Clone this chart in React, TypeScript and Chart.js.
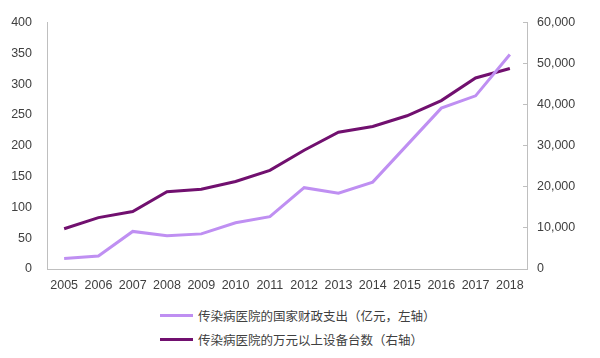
import React, { useEffect, useRef } from "react";
import { Chart, registerables } from "chart.js";

Chart.register(...registerables);

const years = ["2005","2006","2007","2008","2009","2010","2011","2012","2013","2014","2015","2016","2017","2018"];
const fiscalSpending = [17, 21, 61, 54, 57, 75, 85, 132, 123, 141, 201, 261, 281, 348];
const equipmentCount = [9800, 12500, 14000, 18800, 19400, 21300, 24000, 28900, 33300, 34700, 37300, 41000, 46500, 48800];
const leftTicks = [0, 400, 50];
const rightTicks = [0, 60000, 10000];
const labelSpending = "传染病医院的国家财政支出（亿元，左轴）";
const labelEquipment = "传染病医院的万元以上设备台数（右轴）";

const LIGHT = "#BF8FF2";
const DARK = "#71106F";
const TEXT = "#404040";
const AXIS = "#BFBFBF";

export default function App() {
  const ref = useRef<HTMLCanvasElement | null>(null);
  useEffect(() => {
    document.body.style.margin = "0";
    const font = { family: "Liberation Sans, Arial, sans-serif", size: 12.5 };
    const chart = new Chart(ref.current!, {
      type: "line",
      data: {
        labels: years,
        datasets: [
          {
            label: labelSpending,
            data: fiscalSpending,
            borderColor: LIGHT,
            backgroundColor: LIGHT,
            borderWidth: 3,
            pointRadius: 0,
            tension: 0,
            yAxisID: "y",
          },
          {
            label: labelEquipment,
            data: equipmentCount,
            borderColor: DARK,
            backgroundColor: DARK,
            borderWidth: 3,
            pointRadius: 0,
            tension: 0,
            yAxisID: "y1",
          },
        ],
      },
      options: {
        responsive: false,
        animation: false,
        layout: { padding: { top: 19, left: 0, right: 0, bottom: 0 } },
        plugins: { legend: { display: false }, tooltip: { enabled: false } },
        scales: {
          x: {
            offset: true,
            grid: { display: false, drawTicks: false },
            border: { display: true, color: AXIS, width: 1 },
            ticks: { color: TEXT, font, padding: 9, maxRotation: 0, autoSkip: false },
            afterFit: (s: any) => { s.height = 31; },
          },
          y: {
            position: "left",
            min: leftTicks[0],
            max: leftTicks[1],
            grid: { display: false, drawTicks: false },
            border: { display: true, color: AXIS, width: 1 },
            ticks: { color: TEXT, font, stepSize: leftTicks[2], padding: 15 },
            afterFit: (s: any) => { s.width = 47; },
          },
          y1: {
            position: "right",
            min: rightTicks[0],
            max: rightTicks[1],
            grid: { display: true, drawOnChartArea: false, drawTicks: true, tickLength: -4, color: AXIS },
            border: { display: true, color: AXIS, width: 1 },
            ticks: {
              color: TEXT,
              font,
              stepSize: rightTicks[2],
              padding: 14,
              callback: (v: any) => Number(v).toLocaleString("en-US"),
            },
            afterFit: (s: any) => { s.width = 73; },
          },
        },
      },
    });
    return () => chart.destroy();
  }, []);

  const legendRow = (color: string, text: string, top: number) => (
    <div
      style={{
        position: "absolute",
        left: 160,
        top,
        height: 18,
        display: "flex",
        alignItems: "center",
        fontFamily: "'Noto Sans CJK SC', sans-serif",
        fontSize: 12.5,
        color: TEXT,
        whiteSpace: "nowrap",
      }}
    >
      <div style={{ width: 33, height: 3, background: color, marginRight: 5 }} />
      <span>{text}</span>
    </div>
  );

  return (
    <div style={{ position: "relative", width: 600, height: 358, background: "#fff" }}>
      <canvas ref={ref} width={600} height={300} style={{ display: "block" }} />
      {legendRow(LIGHT, labelSpending, 306)}
      {legendRow(DARK, labelEquipment, 330)}
    </div>
  );
}
